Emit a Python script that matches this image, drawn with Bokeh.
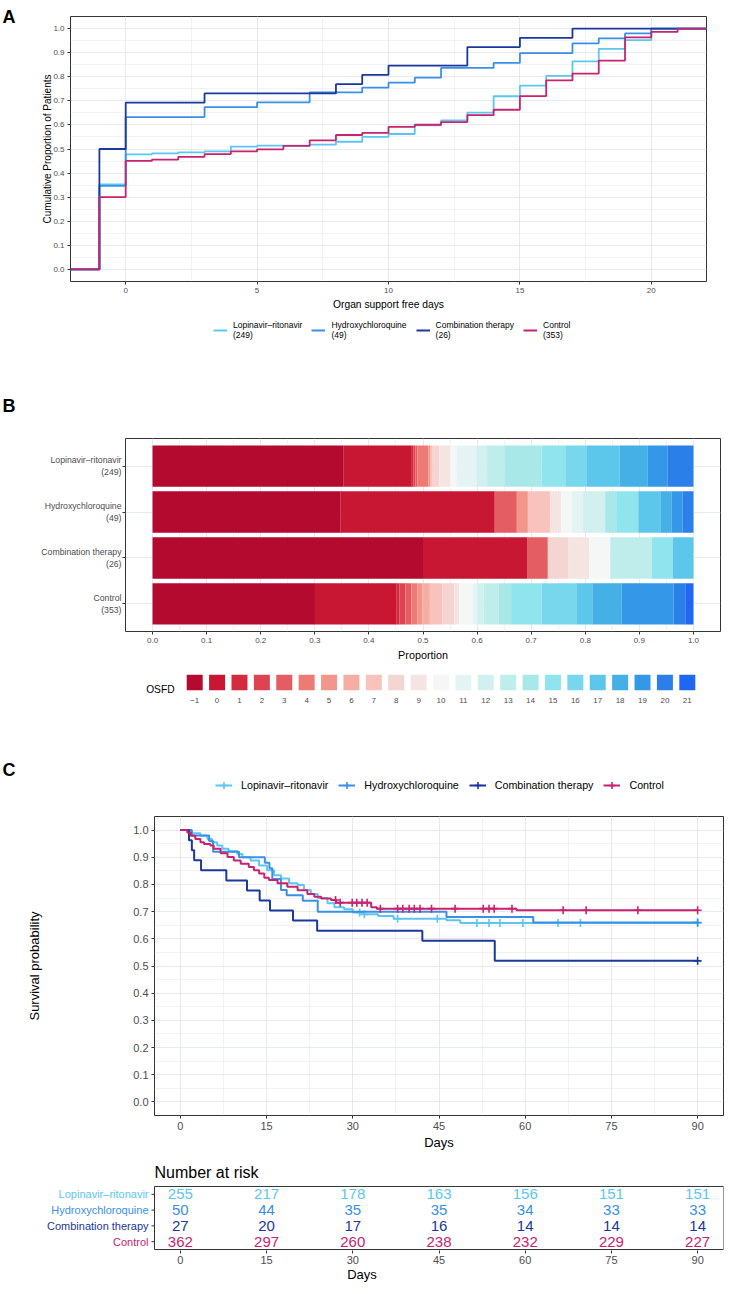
import bisect
import numpy as np
from bokeh.plotting import figure
from bokeh.models import (Range1d, FixedTicker, Label, Legend, LegendItem,
                          ColumnDataSource, NumeralTickFormatter)
from bokeh.core.properties import value
from bokeh.embed import file_html
from bokeh.resources import INLINE

FONT = "Liberation Sans"

# ---------------- data ----------------
groups = ["Lopinavir–ritonavir", "Hydroxychloroquine", "Combination therapy", "Control"]
group_colors = ["#5CC6F2", "#3A90E6", "#1B389C", "#C8236E"]

osfd_days = list(range(-1, 22))
osfd_labels = ["−1"] + [str(d) for d in range(0, 22)]
osfd_colors = ["#B40A2F", "#C81733", "#D42B3F", "#DD4350", "#E45D63", "#EC7B75",
               "#F2968C", "#F5AEA4", "#F7C3BC", "#F5D5D1", "#F4E5E3", "#F5F6F6",
               "#E4F3F3", "#D2F0F0", "#BFEDEC", "#A8E8E9", "#90E4EE", "#78D7EC",
               "#5DC6EB", "#44B0E6", "#3597E8", "#2A7FE8", "#1F67F2"]

# patients per OSFD value (-1 .. 21)
osfd_lr = [88, 31, 1, 1, 1, 5, 1, 0, 1, 3, 5, 3, 9, 5, 8, 17, 11, 10, 15, 13, 9, 12, 0]
osfd_hcq = [17, 14, 0, 0, 2, 0, 1, 0, 2, 0, 1, 1, 1, 2, 0, 1, 2, 0, 2, 1, 1, 1, 0]
osfd_combo = [13, 5, 0, 0, 1, 0, 0, 0, 0, 1, 1, 1, 0, 0, 2, 0, 1, 0, 1, 0, 0, 0, 0]
osfd_ctrl = [106, 53, 2, 4, 4, 4, 3, 5, 8, 8, 3, 9, 3, 4, 10, 8, 20, 23, 10, 19, 34, 8, 5]
osfd_counts = [osfd_lr, osfd_hcq, osfd_combo, osfd_ctrl]

# Kaplan-Meier survival (step times / survival)
km_lr_t = [0, 1.7, 3.5, 4.7, 5.5, 6.4, 7.3, 8.4, 9.9, 10.8, 12.2, 13.7, 15.1, 16.3, 17.5,
           18.9, 20.4, 21.5, 22.7, 23.9, 25.6, 26.8, 28.5, 30.0, 32.0, 34.4, 37.1, 46.3, 48.7]
km_lr_s = [1.0, 0.988, 0.979, 0.967, 0.955, 0.943, 0.931, 0.922, 0.912, 0.900, 0.888, 0.870,
           0.852, 0.834, 0.822, 0.804, 0.798, 0.780, 0.765, 0.750, 0.731, 0.716, 0.709, 0.697,
           0.690, 0.684, 0.674, 0.668, 0.658]
km_hcq_t = [0, 2.0, 5.0, 5.7, 10.2, 14.7, 15.5, 16.0, 17.5, 18.5, 21.3, 23.9, 46.3, 61.4]
km_hcq_s = [1.0, 0.98, 0.96, 0.92, 0.90, 0.88, 0.86, 0.82, 0.78, 0.76, 0.74, 0.70, 0.68, 0.66]
km_combo_t = [0, 1.5, 2.0, 2.4, 3.6, 8.0, 11.6, 13.8, 15.6, 19.6, 23.8, 42.1, 54.7]
km_combo_s = [1.0, 0.963, 0.926, 0.889, 0.852, 0.815, 0.778, 0.741, 0.704, 0.667, 0.630,
              0.593, 0.519]
km_ctrl_t = [0, 1.2, 1.8, 2.6, 3.5, 4.1, 5.2, 5.8, 7.0, 8.2, 9.3, 10.5, 11.9, 12.8, 13.7,
             14.6, 15.4, 16.9, 18.6, 20.4, 22.1, 23.3, 24.5, 26.2, 27.1, 33.2, 34.2, 58.5]
km_ctrl_s = [1.0, 0.991, 0.979, 0.967, 0.955, 0.949, 0.943, 0.931, 0.915, 0.901, 0.888,
             0.876, 0.864, 0.852, 0.840, 0.825, 0.816, 0.804, 0.792, 0.779, 0.765, 0.755,
             0.748, 0.743, 0.733, 0.716, 0.711, 0.705]
followup_end = 90

cens_lr = [31.2, 32.0, 37.8, 44.7, 51.6, 53.7, 55.6, 59.6, 65.7, 69.6, 90]
cens_hcq = [90]
cens_combo = [90]
cens_ctrl = [27.0, 27.8, 29.9, 30.7, 31.6, 32.5, 34.8, 37.8, 38.7, 39.8, 40.7, 41.7, 43.7,
             47.8, 52.7, 53.7, 54.6, 57.7, 66.6, 70.6, 79.6, 90]

km_t = [km_lr_t, km_hcq_t, km_combo_t, km_ctrl_t]
km_s = [km_lr_s, km_hcq_s, km_combo_s, km_ctrl_s]
km_cens = [cens_lr, cens_hcq, cens_combo, cens_ctrl]

risk_times = [0, 15, 30, 45, 60, 75, 90]
risk_lr = [255, 217, 178, 163, 156, 151, 151]
risk_hcq = [50, 44, 35, 35, 34, 33, 33]
risk_combo = [27, 20, 17, 16, 14, 14, 14]
risk_ctrl = [362, 297, 260, 238, 232, 229, 227]
risk_rows = [risk_lr, risk_hcq, risk_combo, risk_ctrl]

GRID = "#E6EAEC"
TICKLAB = "#4D4D4D"
BORDER = "#333333"
W = 743


def base_style(p, tick_size, title_size):
    p.background_fill_color = "white"
    p.border_fill_color = "white"
    p.outline_line_color = BORDER
    p.outline_line_width = 1
    for ax in p.axis:
        ax.axis_line_color = None
        ax.major_tick_line_color = BORDER
        ax.major_tick_out = 3
        ax.major_tick_in = 0
        ax.minor_tick_line_color = None
        ax.major_label_text_font = FONT
        ax.major_label_text_font_size = tick_size
        ax.major_label_text_color = TICKLAB
        ax.major_label_standoff = 2
        ax.axis_label_text_font = FONT
        ax.axis_label_text_font_style = "normal"
        ax.axis_label_text_font_size = title_size
        ax.axis_label_text_color = "black"
    for g in p.grid:
        g.grid_line_color = GRID
        g.grid_line_width = 1
        g.minor_grid_line_color = GRID
        g.minor_grid_line_width = 0.6


def panel_title(p, txt, offset, standoff):
    p.title.text = txt
    p.title.align = "left"
    p.title.offset = offset
    p.title.standoff = standoff
    p.title.text_font = FONT
    p.title.text_font_style = "bold"
    p.title.text_font_size = "18px"
    p.title.text_color = "black"


def blank_fig(height):
    f = figure(width=W, height=height, x_range=Range1d(0, 1), y_range=Range1d(0, 1),
               x_axis_location=None, y_axis_location=None, output_backend="svg",
               toolbar_location=None, min_border=0)
    f.outline_line_color = None
    f.grid.visible = False
    f.background_fill_color = "white"
    f.border_fill_color = "white"
    return f


def legend_box(items, loc, glyph_w, glyph_h, standoff, spacing, size, line_h=1.2):
    return Legend(items=items, location=loc, orientation="horizontal",
                  glyph_width=glyph_w, glyph_height=glyph_h, label_height=glyph_h,
                  label_standoff=standoff, spacing=spacing, padding=0, margin=0,
                  border_line_alpha=0, background_fill_alpha=0, inactive_fill_alpha=0,
                  label_text_font=FONT, label_text_font_size=size,
                  label_text_color="black", label_text_line_height=line_h)


# ---------------- Panel A ----------------
ax_lo, ax_hi = -2.1, 22.1
pA = figure(width=W, height=315, x_range=Range1d(ax_lo, ax_hi), y_range=Range1d(-0.05, 1.05),
            output_backend="svg", toolbar_location=None, title="A",
            min_border_left=70, min_border_right=37, min_border_top=16, min_border_bottom=34)
panel_title(pA, "A", -68, -21)
pA.xaxis.ticker = FixedTicker(ticks=[0, 5, 10, 15, 20], minor_ticks=[2.5, 7.5, 12.5, 17.5])
pA.yaxis.ticker = FixedTicker(ticks=[i / 10 for i in range(11)],
                              minor_ticks=[i / 10 + 0.05 for i in range(10)])
pA.yaxis.formatter = NumeralTickFormatter(format="0.0")
pA.xaxis.axis_label = "Organ support free days"
pA.yaxis.axis_label = "Cumulative Proportion of Patients"
base_style(pA, "8px", "10px")
pA.xaxis.axis_label_text_font_size = "10.3px"
pA.xaxis.axis_label_standoff = 3
pA.yaxis.axis_label_standoff = -3

stepsA = []
for cnt, col in zip(osfd_counts, group_colors):
    n = sum(cnt)
    cum = list(np.cumsum(cnt) / n)
    xs = [ax_lo] + osfd_days + [ax_hi]
    ys = [0.0] + cum + [cum[-1]]
    stepsA.append((xs, ys))
    pA.step(xs, ys, mode="after", line_color=col, line_width=1.8)

# legend of panel A (proxy renderers carry the same data, hidden)
pAl = blank_fig(45)
itemsA = []
for g, cnt, col, (xs, ys) in zip(groups, osfd_counts, group_colors, stepsA):
    r = pAl.line(xs, ys, line_color=col, line_width=2, visible=False)
    itemsA.append(LegendItem(label=f"{g}\n({sum(cnt)})", renderers=[r]))
pAl.add_layout(legend_box(itemsA, (213, 20), 14, 20, 6, 9, "8.5px", 1.1))

# ---------------- Panel B ----------------
row_pos = [4, 3, 2, 1]
pB = figure(width=W, height=305, x_range=Range1d(-0.05, 1.05), y_range=Range1d(0.4, 4.6),
            output_backend="svg", toolbar_location=None, title="B",
            min_border_left=125, min_border_right=23, min_border_top=78, min_border_bottom=34)
panel_title(pB, "B", -123, 45)
pB.xaxis.ticker = FixedTicker(ticks=[i / 10 for i in range(11)],
                              minor_ticks=[i / 10 + 0.05 for i in range(10)])
pB.xaxis.formatter = NumeralTickFormatter(format="0.0")
pB.yaxis.ticker = FixedTicker(ticks=row_pos)
pB.yaxis.major_label_overrides = {pos: f"{g}\n({sum(c)})"
                                  for pos, g, c in zip(row_pos, groups, osfd_counts)}
pB.xaxis.axis_label = "Proportion"
base_style(pB, "8px", "10.8px")
pB.yaxis.major_label_text_font_size = "8.7px"
pB.yaxis.major_label_standoff = 1
pB.xaxis.axis_label_standoff = 3
pB.ygrid.minor_grid_line_color = None

stack_cols = [f"c{i}" for i in range(len(osfd_days))]
srcB = {"y": row_pos}
for i, col in enumerate(stack_cols):
    srcB[col] = [cnt[i] / sum(cnt) for cnt in osfd_counts]
pB.hbar_stack(stack_cols, y="y", height=0.9, fill_color=osfd_colors, line_color=None,
              source=ColumnDataSource(srcB))

# ---------------- Panel B legend ----------------
pL = figure(width=W, height=45, x_range=Range1d(-0.5, len(osfd_days) - 0.5),
            y_range=Range1d(0, 1), output_backend="svg", toolbar_location=None,
            min_border_left=183, min_border_right=45, min_border_top=9, min_border_bottom=20)
key_pos = list(range(len(osfd_days)))
pL.rect(x=key_pos, y=0.5, width=0.714, height=1, fill_color=osfd_colors, line_color=None)
pL.xaxis.ticker = FixedTicker(ticks=key_pos)
pL.xaxis.major_label_overrides = {k: lab for k, lab in zip(key_pos, osfd_labels)}
pL.yaxis.ticker = FixedTicker(ticks=[0.06])
pL.yaxis.major_label_overrides = {0.06: "OSFD"}
pL.grid.visible = False
pL.outline_line_color = None
pL.background_fill_color = "white"
pL.border_fill_color = "white"
for ax in pL.axis:
    ax.axis_line_color = None
    ax.major_tick_line_color = None
    ax.minor_tick_line_color = None
    ax.major_label_text_font = FONT
pL.xaxis.major_label_text_font_size = "8px"
pL.xaxis.major_label_text_color = TICKLAB
pL.xaxis.major_label_standoff = 1
pL.yaxis.major_label_text_font_size = "10.2px"
pL.yaxis.major_label_text_color = "black"
pL.yaxis.major_label_standoff = 3

# ---------------- Panel C header (letter + legend) ----------------
pCl = blank_fig(90)
itemsC = []
for g, t, s, cens, col in zip(groups, km_t, km_s, km_cens, group_colors):
    cs = [s[bisect.bisect_right(t, c) - 1] for c in cens]
    rl = pCl.line(t, s, line_color=col, line_width=2, visible=False)
    rc = pCl.scatter(cens, cs, marker="cross", size=8, line_color=col, line_width=1.6,
                     visible=False)
    itemsC.append(LegendItem(label=g, renderers=[rl, rc]))
pCl.add_layout(legend_box(itemsC, (215, 5), 17, 20, 9, 10, "10.7px"))
pCl.add_layout(Label(x=2, y=31, x_units="screen", y_units="screen", text="C",
                     text_font=FONT, text_font_style="bold", text_font_size="18px",
                     text_color="black", text_baseline="alphabetic"))

# ---------------- Panel C ----------------
c_lo, c_hi = -4.5, 94.5
C_LEFT, C_RIGHT = 154, 20
pC = figure(width=W, height=352, x_range=Range1d(c_lo, c_hi), y_range=Range1d(-0.05, 1.05),
            output_backend="svg", toolbar_location=None,
            min_border_left=C_LEFT, min_border_right=C_RIGHT, min_border_top=16,
            min_border_bottom=36)
pC.xaxis.ticker = FixedTicker(ticks=risk_times, minor_ticks=[t + 7.5 for t in risk_times[:-1]])
pC.yaxis.ticker = FixedTicker(ticks=[i / 10 for i in range(11)],
                              minor_ticks=[i / 10 + 0.05 for i in range(10)])
pC.yaxis.formatter = NumeralTickFormatter(format="0.0")
pC.xaxis.axis_label = "Days"
pC.yaxis.axis_label = "Survival probability"
base_style(pC, "11px", "13px")
pC.yaxis.axis_label_standoff = 88
pC.xaxis.axis_label_standoff = 2

for t, s, cens, col in zip(km_t, km_s, km_cens, group_colors):
    ts = t + [followup_end]
    ss = s + [s[-1]]
    pC.step(ts, ss, mode="after", line_color=col, line_width=2)
    cs = [s[bisect.bisect_right(t, c) - 1] for c in cens]
    pC.scatter(cens, cs, marker="cross", size=8, line_color=col, line_width=1.6)

# ---------------- Risk table ----------------
# same day-to-pixel scale as panel C, frame extended to the left edge for the row names
c_frame_w = W - C_LEFT - C_RIGHT
px_per_day = c_frame_w / (c_hi - c_lo)
r_lo = c_lo - C_LEFT / px_per_day
R_TOP, R_H = 33, 65
row_pad = 0.5 / (R_H / 4.0)
pR = figure(width=W, height=142, x_range=Range1d(r_lo, c_hi),
            y_range=Range1d(0.5 - 2 * row_pad, 4.5 + 2 * row_pad),
            output_backend="svg", toolbar_location=None, title="Number at risk",
            min_border_left=0, min_border_right=C_RIGHT, min_border_top=R_TOP,
            min_border_bottom=142 - R_TOP - R_H, y_axis_location=None)
pR.title.align = "left"
pR.title.offset = C_LEFT
pR.title.standoff = 9
pR.title.text_font = FONT
pR.title.text_font_style = "normal"
pR.title.text_font_size = "16px"
pR.title.text_color = "black"
pR.xaxis.ticker = FixedTicker(ticks=risk_times)
pR.xaxis.axis_label = "Days"
base_style(pR, "11px", "13px")
pR.outline_line_color = None
pR.xaxis.axis_label_standoff = 0
pR.grid.visible = False
pR.quad(left=c_lo, right=c_hi, bottom=0.5, top=4.5, fill_color=None,
        line_color=BORDER, line_width=1)
pR.ray(x=c_lo, y=row_pos, length=3, length_units="screen", angle=np.pi,
       line_color=BORDER, line_width=1)

tx, ty, tt, tc = [], [], [], []
for pos, row, col in zip(row_pos, risk_rows, group_colors):
    for t, v in zip(risk_times, row):
        tx.append(t)
        ty.append(pos)
        tt.append(str(v))
        tc.append(col)
pR.text(x="x", y="y", text="t", text_color="c", text_align="center",
        text_baseline="middle", text_font_size="15px", text_font=value(FONT),
        source=ColumnDataSource(dict(x=tx, y=ty, t=tt, c=tc)))
pR.text(x=c_lo, y=row_pos, text=groups, text_color=group_colors, x_offset=-6,
        text_align="right", text_baseline="middle", text_font_size="11px",
        text_font=value(FONT))

roots = [pA, pAl, pB, pL, pCl, pC, pR]
open("out.html", "w").write(file_html(roots, INLINE, title="Figure"))
